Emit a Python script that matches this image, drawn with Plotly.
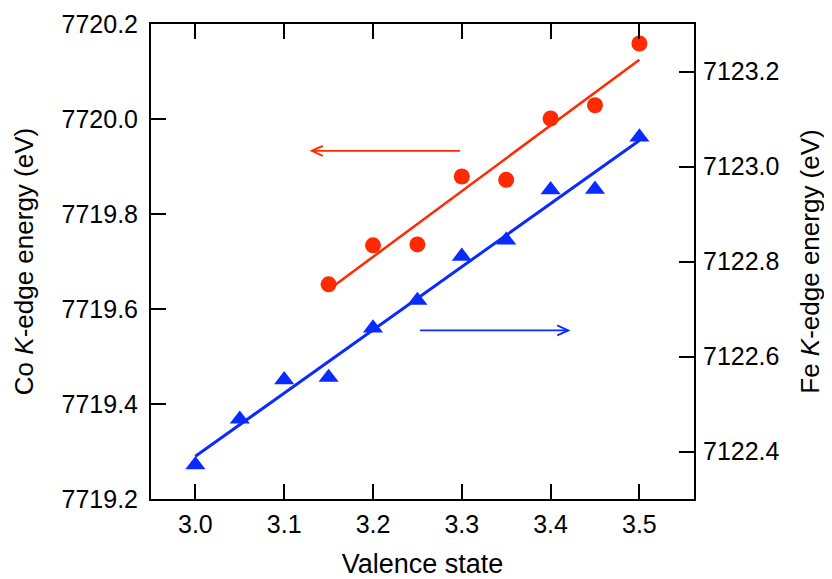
import numpy as np
import plotly.graph_objects as go

# ---- data ----
valence_co = [3.15, 3.20, 3.25, 3.30, 3.35, 3.40, 3.45, 3.50]
co_energy = [7719.652, 7719.734, 7719.736, 7719.879, 7719.872, 7720.001, 7720.029, 7720.159]

valence_fe = [3.00, 3.05, 3.10, 3.15, 3.20, 3.25, 3.30, 3.35, 3.40, 3.45, 3.50]
fe_energy = [7122.372, 7122.468, 7122.551, 7122.556, 7122.660, 7122.718, 7122.811,
             7122.845, 7122.951, 7122.952, 7123.062]

x_ticks = [3.0, 3.1, 3.2, 3.3, 3.4, 3.5]
co_ticks = [7719.2, 7719.4, 7719.6, 7719.8, 7720.0, 7720.2]
fe_ticks = [7122.4, 7122.6, 7122.8, 7123.0, 7123.2]

# arrows: (x_start, x_end, y)
co_arrow = (3.298, 3.131, 7719.933)
fe_arrow = (3.253, 3.420, 7122.655)

RED = "#FF2A00"
BLUE = "#0A2BFF"
FONT = "Liberation Sans, Arial, sans-serif"

# linear fits
pc = np.polyfit(valence_co, co_energy, 1)
pf = np.polyfit(valence_fe, fe_energy, 1)
xc = np.array([valence_co[0], valence_co[-1]])
xf = np.array([valence_fe[0], valence_fe[-1]])

fig = go.Figure()
fig.add_trace(go.Scatter(x=xc, y=np.polyval(pc, xc), mode="lines",
                         line=dict(color=RED, width=2.5), showlegend=False))
fig.add_trace(go.Scatter(x=valence_co, y=co_energy, mode="markers",
                         marker=dict(symbol="circle", size=16, color=RED), showlegend=False))
fig.add_trace(go.Scatter(x=xf, y=np.polyval(pf, xf), mode="lines", yaxis="y2",
                         line=dict(color=BLUE, width=3), showlegend=False))
fig.add_trace(go.Scatter(x=valence_fe, y=fe_energy, mode="markers", yaxis="y2",
                         marker=dict(symbol="triangle-up", size=17.5, color=BLUE), showlegend=False))

# arrows drawn as shapes (line + open V head)
def arrow(x0, x1, y, yref, color):
    hx = 0.0125 * np.sign(x0 - x1)
    hy = 0.0105
    return [
        dict(type="line", xref="x", yref=yref, x0=x0, x1=x1, y0=y, y1=y,
             line=dict(color=color, width=1.8)),
        dict(type="path", xref="x", yref=yref,
             path=f"M {x1+hx},{y+hy} L {x1},{y} L {x1+hx},{y-hy}",
             line=dict(color=color, width=1.8)),
    ]

shapes = arrow(co_arrow[0], co_arrow[1], co_arrow[2], "y", RED) + \
         arrow(fe_arrow[0], fe_arrow[1], fe_arrow[2], "y2", BLUE)

axis_common = dict(showline=True, linecolor="black", linewidth=2, ticks="inside",
                   ticklen=15, tickwidth=2, tickcolor="black", showgrid=False,
                   zeroline=False, automargin=False,
                   tickfont=dict(family=FONT, size=25, color="black"))

fig.update_layout(
    width=824, height=571,
    margin=dict(l=143, r=138, t=16, b=80),
    paper_bgcolor="white", plot_bgcolor="white",
    font=dict(family=FONT, color="black"),
    shapes=shapes,
    xaxis=dict(range=[2.95, 3.5615], tickvals=x_ticks, ticktext=[f"{v:.1f}" for v in x_ticks],
               mirror="ticks", ticklabelstandoff=2,
               title=dict(text="Valence state", font=dict(family=FONT, size=27), standoff=34),
               **axis_common),
    yaxis=dict(range=[7719.2, 7720.2], tickvals=co_ticks, ticktext=[f"{v:.1f}" for v in co_ticks],
               ticklabelstandoff=6,
               title=dict(text="Co <i>K</i>-edge energy (eV)", font=dict(family=FONT, size=26), standoff=20),
               **axis_common),
    yaxis2=dict(range=[7122.30, 7123.30], tickvals=fe_ticks, ticktext=[f"{v:.1f}" for v in fe_ticks],
                overlaying="y", side="right", ticklabelstandoff=2,
                title=dict(text="Fe <i>K</i>-edge energy (eV)", font=dict(family=FONT, size=26), standoff=22),
                **axis_common),
)

fig.write_html("out.html")
